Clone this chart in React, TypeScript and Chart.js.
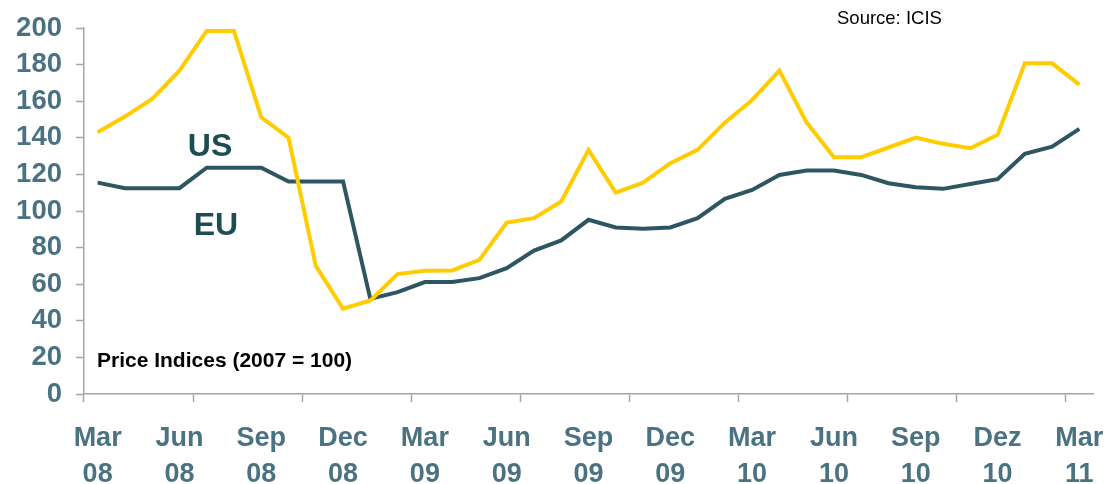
import React, { useEffect, useRef } from "react";
import { Chart, registerables } from "chart.js";

Chart.register(...registerables);

const categories: string[] = [
  "Mar 08", "Apr 08", "May 08", "Jun 08", "Jul 08", "Aug 08", "Sep 08", "Oct 08", "Nov 08", "Dec 08",
  "Jan 09", "Feb 09", "Mar 09", "Apr 09", "May 09", "Jun 09", "Jul 09", "Aug 09", "Sep 09", "Oct 09",
  "Nov 09", "Dec 09", "Jan 10", "Feb 10", "Mar 10", "Apr 10", "May 10", "Jun 10", "Jul 10", "Aug 10",
  "Sep 10", "Oct 10", "Nov 10", "Dez 10", "Jan 11", "Feb 11", "Mar 11",
];

const usValues: number[] = [
  143.0, 151.6, 161.2, 176.7, 198.4, 198.4, 151.2, 140.1, 70.0, 46.6,
  51.1, 65.5, 67.3, 67.5, 73.3, 93.7, 96.1, 105.2, 133.4, 110.1,
  115.5, 126.1, 133.4, 148.3, 160.7, 176.7, 148.3, 129.4, 129.4, 134.7,
  140.1, 136.7, 134.3, 141.6, 180.7, 180.7, 169.1,
];

const euValues: number[] = [
  115.5, 112.5, 112.5, 112.5, 123.7, 123.7, 123.7, 116.1, 116.1, 116.1,
  52.0, 55.7, 61.2, 61.2, 63.3, 68.8, 78.4, 83.9, 95.2, 91.0,
  90.3, 91.0, 96.1, 106.6, 111.5, 119.7, 122.1, 122.1, 119.7, 115.2,
  113.0, 112.1, 114.8, 117.4, 131.2, 135.2, 144.9,
];

const FONT = "'Liberation Sans', Arial, sans-serif";
const LABEL_COLOR = "#4A7280";
const AXIS_COLOR = "#A6A6A6";

const textPlugin = {
  id: "annotText",
  afterDraw(chart: any) {
    const ctx = chart.ctx;
    ctx.save();
    ctx.textBaseline = "alphabetic";
    ctx.fillStyle = "#1B4D52";
    ctx.textAlign = "center";
    ctx.font = `bold 32px ${FONT}`;
    ctx.fillText("US", 210, 156);
    ctx.fillText("EU", 216, 235);
    ctx.textAlign = "left";
    ctx.fillStyle = "#000000";
    ctx.font = `bold 21px ${FONT}`;
    ctx.fillText("Price Indices (2007 = 100)", 97, 367);
    ctx.font = `18.5px ${FONT}`;
    ctx.fillText("Source: ICIS", 837, 24);
    ctx.restore();
  },
};

export default function App() {
  const ref = useRef<HTMLCanvasElement>(null);
  useEffect(() => {
    if (!ref.current) return;
    const chart = new Chart(ref.current, {
      type: "line",
      data: {
        labels: categories,
        datasets: [
          {
            label: "US",
            data: usValues,
            borderColor: "#FFCC00",
            borderWidth: 4,
            pointRadius: 0,
            tension: 0,
            fill: false,
          },
          {
            label: "EU",
            data: euValues,
            borderColor: "#2E5660",
            borderWidth: 4,
            pointRadius: 0,
            tension: 0,
            fill: false,
          },
        ],
      },
      options: {
        responsive: false,
        animation: false,
        layout: { padding: { left: 0, top: 28, right: 13, bottom: 0 } },
        plugins: {
          legend: { display: false },
          tooltip: { enabled: false },
          title: { display: false },
        },
        scales: {
          x: {
            type: "category",
            offset: true,
            grid: {
              offset: true,
              drawOnChartArea: false,
              drawTicks: true,
              tickLength: 8,
              tickWidth: 1.5,
              tickColor: (c: any) => (c.index % 4 === 0 ? AXIS_COLOR : "rgba(0,0,0,0)"),
            },
            border: { display: true, color: AXIS_COLOR, width: 1.5 },
            ticks: {
              autoSkip: false,
              maxRotation: 0,
              minRotation: 0,
              padding: 19,
              color: LABEL_COLOR,
              font: { family: FONT, size: 27, weight: "bold", lineHeight: 1.33 },
              callback: (_v: any, i: number) => (i % 3 === 0 ? categories[i].split(" ") : ""),
            },
            afterFit: (s: any) => {
              s.height = 90;
              s.paddingLeft = 0;
              s.paddingRight = 0;
            },
          },
          y: {
            min: 0,
            max: 200,
            grid: {
              drawOnChartArea: false,
              drawTicks: true,
              tickLength: 8,
              tickWidth: 1.5,
              tickColor: AXIS_COLOR,
            },
            border: { display: true, color: AXIS_COLOR, width: 1.5 },
            ticks: {
              stepSize: 20,
              padding: 14,
              color: LABEL_COLOR,
              font: { family: FONT, size: 27.5, weight: "bold" },
            },
            afterFit: (s: any) => {
              s.width = 84;
              s.paddingTop = 0;
              s.paddingBottom = 0;
            },
          },
        },
      },
      plugins: [textPlugin],
    });
    return () => chart.destroy();
  }, []);
  return (
    <div style={{ position: "fixed", left: 0, top: 0, width: 1106, height: 484, background: "#fff" }}>
      <canvas ref={ref} width={1106} height={484} style={{ width: 1106, height: 484 }} />
    </div>
  );
}
